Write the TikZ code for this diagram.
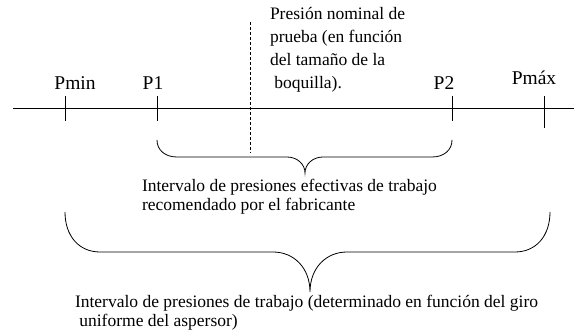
\documentclass[tikz,border=0pt]{standalone}
\usepackage{fontspec}
\setmainfont{Liberation Serif}
\begin{document}
\begin{tikzpicture}[x=1pt,y=-1pt,
  txt/.style={inner sep=0pt,outer sep=0pt,align=left,font=\fontsize{17.5}{19.5}\selectfont},
  lbl/.style={inner sep=0pt,outer sep=0pt,anchor=base,font=\fontsize{19.5}{20}\selectfont},
  ln/.style={line width=0.8pt,black},
  brace/.style={line width=0.8pt,black}]
\useasboundingbox (0,0) rectangle (574,331);
% axis
\coordinate (axL) at (13,108);
\coordinate (axR) at (574,108);
\draw[ln] (axL) -- (axR);
% ticks
\coordinate (t1a) at (65,96);  \coordinate (t1b) at (65,121);
\coordinate (t2a) at (157,96); \coordinate (t2b) at (157,121);
\coordinate (t3a) at (452,96); \coordinate (t3b) at (452,121);
\coordinate (t4a) at (544,96); \coordinate (t4b) at (544,128);
\draw[ln] (t1a) -- (t1b);
\draw[ln] (t2a) -- (t2b);
\draw[ln] (t3a) -- (t3b);
\draw[ln] (t4a) -- (t4b);
% labels
\node[lbl] (pmin) at (75,90) {Pmin};
\node[lbl] (p1) at (153,90) {P1};
\node[lbl] (p2) at (444,90) {P2};
\node[lbl] (pmax) at (534,85) {Pmáx};
% dashed line
\coordinate (dA) at (250,22);
\coordinate (dB) at (250,153);
\draw[ln,dash pattern=on 3pt off 2pt] (dA) -- (dB);
% top text
\node[txt,anchor=base west,font=\fontsize{17.5}{23}\selectfont] (nom) at (270,89)
  {Presión nominal de\\prueba (en función\\del tamaño de la\\\ boquilla).};
% small brace
\coordinate (sbL) at (157,140);
\coordinate (sbR) at (452,140);
\coordinate (sbT) at (305,173);
\draw[brace] (sbL) .. controls (157,150) and (165,157) .. (177,157)
  -- (287,157) .. controls (297,157) and (305,164) .. (sbT)
  .. controls (305,164) and (313,157) .. (323,157)
  -- (432,157) .. controls (444,157) and (452,150) .. (sbR);
\node[txt,anchor=base west] (mid) at (142,211)
  {Intervalo de presiones efectivas de trabajo\\recomendado por el fabricante};
% big brace
\coordinate (bbL) at (65,212);
\coordinate (bbR) at (550,212);
\coordinate (bbT) at (310,292);
\draw[brace] (bbL) .. controls (65,236) and (79,252) .. (100,252)
  -- (273,252) .. controls (294,252) and (310,268) .. (bbT)
  .. controls (310,268) and (326,252) .. (347,252)
  -- (515,252) .. controls (536,252) and (550,236) .. (bbR);
\node[txt,anchor=base west] (bot) at (75,327)
  {Intervalo de presiones de trabajo (determinado en función del giro\\\ uniforme del aspersor)};
\end{tikzpicture}
\end{document}
